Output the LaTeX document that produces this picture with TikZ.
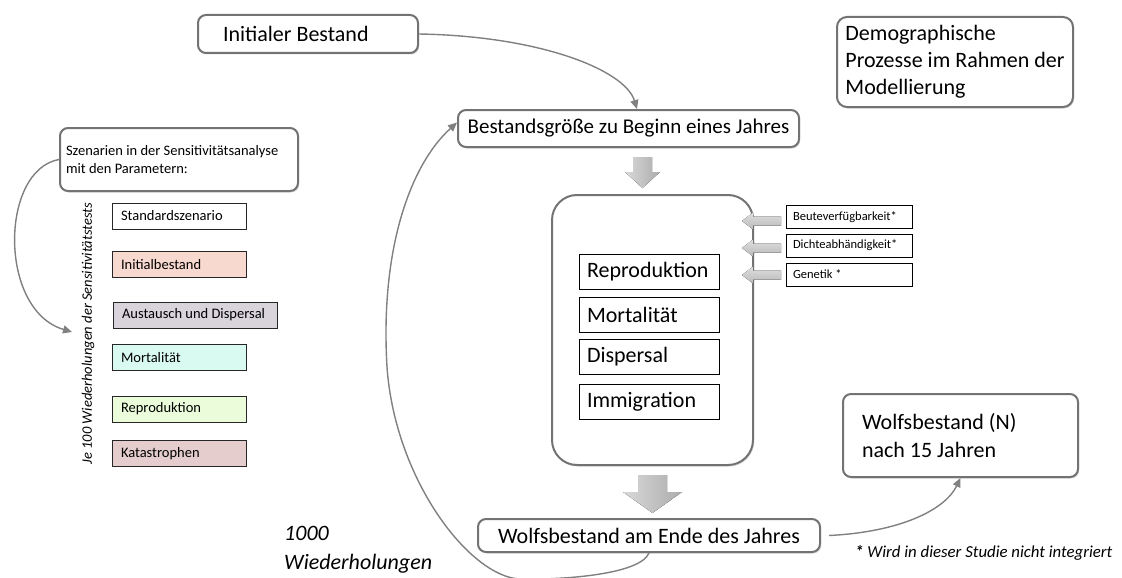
\documentclass[tikz,border=0pt]{standalone}
\usepackage{fontspec}
\setmainfont{Carlito}
\usetikzlibrary{shadows,arrows.meta}
\definecolor{cInit}{HTML}{F8D9CF}
\definecolor{cAust}{HTML}{D9D3DC}
\definecolor{cMort}{HTML}{D8FAF0}
\definecolor{cRepr}{HTML}{EBFCDA}
\definecolor{cKata}{HTML}{E5CDCE}
\definecolor{cBorder}{HTML}{737373}
\definecolor{cLine}{HTML}{808080}
\newcommand\fsz[2]{\fontsize{#1}{#2}\selectfont}
\begin{document}
\begin{tikzpicture}[x=1pt,y=-1pt,
  rbox/.style={draw=cBorder, line width=2pt, fill=white, rounded corners=8pt,
    drop shadow={shadow xshift=1.2pt, shadow yshift=-1.5pt, opacity=0.3}},
  ibox/.style={draw=black, line width=0.9pt, fill=white, text width=124pt, inner xsep=8pt,
    align=flush left, minimum height=35pt, font=\fsz{22}{26}},
  rsbox/.style={draw=black, line width=0.8pt, fill=white, text width=112pt, inner xsep=7pt,
    align=flush left, minimum height=23pt, inner ysep=0pt, font=\fsz{12.5}{15}},
  lbox/.style={draw=black!85, line width=0.8pt, text width=116pt, inner xsep=9pt,
    align=flush left, minimum height=26pt, inner ysep=0pt, font=\fsz{14.5}{17}},
  conn/.style={draw=cLine, line width=1.4pt, -{Triangle[length=9pt,width=8pt]}},
  blockv/.style={left color=gray!30, right color=gray!65, draw=none},
  blockh/.style={top color=gray!25, bottom color=gray!55, draw=none},
]
\useasboundingbox (0,0) rectangle (1122,578);

% main boxes
\node[rbox, font=\fsz{22}{27}, text width=170pt, inner xsep=25pt, align=flush left, minimum height=38pt] (init) at (308,34) {Initialer Bestand};
\node[rbox, font=\fsz{22}{27}, align=flush left, inner xsep=7pt, minimum width=236pt, minimum height=90pt, rounded corners=10pt] (demo) at (955,62) {Demographische\\Prozesse im Rahmen der\\Modellierung};
\node[rbox, font=\fsz{21}{26}, minimum width=341pt, minimum height=37pt] (bestand) at (628.5,128.5) {Bestandsgröße zu Beginn eines Jahres};
\node[rbox, rounded corners=25pt, minimum width=201pt, minimum height=270pt] (proc) at (652.5,330) {};
\node[rbox, font=\fsz{22}{27}, minimum width=342pt, minimum height=33pt, inner ysep=0pt] (wende) at (649,535.5) {Wolfsbestand am Ende des Jahres};
\node[rbox, font=\fsz{22}{28}, text width=197pt, inner xsep=19pt, align=flush left, minimum height=83pt] (wn) at (960.5,435.5) {Wolfsbestand (N)\\nach 15 Jahren};
\node[rbox, font=\fsz{14.5}{17.5}, text width=226pt, inner xsep=6pt, align=flush left, minimum height=63pt] (szen) at (179,159.5) {Szenarien in der Sensitivitätsanalyse\\mit den Parametern:};

% processes inside
\node[ibox] (repr) at (649,271.5) {Reproduktion};
\node[ibox] (mort) at (649,314.5) {Mortalität};
\node[ibox] (disp) at (649,356.5) {Dispersal};
\node[ibox] (immi) at (649,402) {Immigration};

% right factors
\node[rsbox] (beute) at (849,217) {Beuteverfügbarkeit*};
\node[rsbox] (dichte) at (849,245.5) {Dichteabhändigkeit*};
\node[rsbox] (gen) at (849,274.5) {Genetik *};

% left scenarios
\node[lbox] (std) at (179,216) {Standardszenario};
\node[lbox, fill=cInit] (inb) at (179,264.5) {Initialbestand};
\node[lbox, fill=cAust, text width=146pt] (aust) at (195,315) {Austausch und Dispersal};
\node[lbox, fill=cMort] (lmort) at (179,357.5) {Mortalität};
\node[lbox, fill=cRepr] (lrepr) at (179,409) {Reproduktion};
\node[lbox, fill=cKata] (kata) at (179,453.5) {Katastrophen};

% texts
\node[rotate=90, font=\fsz{14.5}{17}\itshape, inner sep=0pt] (rot) at (88,333.5) {Je 100 Wiederholungen der Sensitivitätstests};
\node[font=\fsz{22}{29}\itshape, align=flush left, anchor=west, inner sep=0pt] (wied) at (284,550) {1000\\Wiederholungen};
\node[font=\fsz{16.8}{19}\itshape, anchor=west, inner sep=0pt] (foot) at (855,553) {{\bfseries *} Wird in dieser Studie nicht integriert};

% block arrows
\fill[blockv] (633,157) -- (652,157) -- (652,172) -- (660,172) -- (642.5,188) -- (625,172) -- (633,172) -- cycle;
\fill[blockv] (638,475) -- (667,475) -- (667,492) -- (682,492) -- (652.5,513) -- (623,492) -- (638,492) -- cycle;
\foreach \c in {221,248,275}{
  \fill[blockh] (781,\c-4.5) -- (753,\c-4.5) -- (753,\c-8.5) -- (742,\c) -- (753,\c+8.5) -- (753,\c+4.5) -- (781,\c+4.5) -- cycle;
}

% connectors
\draw[conn] (init.east) .. controls (540,36) and (625,70) .. ([xshift=8.5pt]bestand.north);
\draw[conn] (wende.south) .. controls (640,575) and (560,580) .. (520,579) .. controls (470,577) and (395,480) .. (387,367) .. controls (380,250) and (410,165) .. ([yshift=6pt]bestand.west);
\draw[conn] ([xshift=8pt]wende.east) .. controls (900,532) and (945,510) .. (wn.south);
\coordinate (sztip) at (72,332);
\draw[conn] (szen.west) .. controls (0,170) and (-2,310) .. (sztip);
\end{tikzpicture}
\end{document}
